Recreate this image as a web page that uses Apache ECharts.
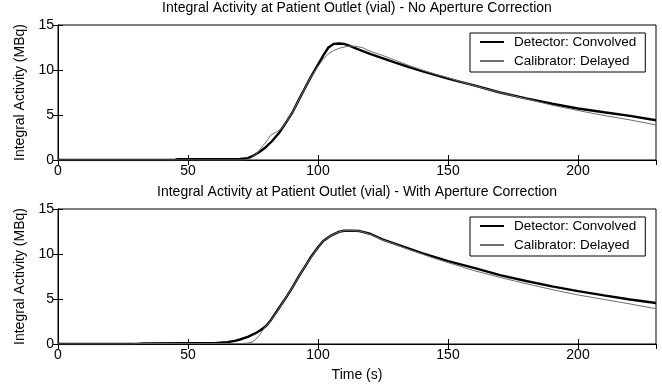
<!DOCTYPE html>
<html>
<head>
<meta charset="utf-8">
<script src="https://cdn.jsdelivr.net/npm/echarts@6/dist/echarts.min.js"></script>
<style>
  html, body { margin: 0; padding: 0; background: #fff; }
  #chart { width: 662px; height: 387px; }
</style>
</head>
<body>
<div id="chart"></div>
<script>
  // top plot: no aperture correction
  var tDetTop = [0, 45, 46, 60, 70, 73, 75, 78, 80, 82, 85, 88, 90, 93, 95, 97, 100, 102, 104, 106, 108, 110, 112, 115, 120, 125, 130, 135, 140, 145, 150, 160, 170, 180, 190, 200, 210, 220, 230];
  var detTop = [0, 0, 0.08, 0.1, 0.12, 0.2, 0.45, 1.0, 1.45, 2.0, 3.0, 4.3, 5.2, 6.9, 8.0, 9.1, 10.6, 11.6, 12.5, 12.9, 12.95, 12.9, 12.7, 12.35, 11.8, 11.3, 10.8, 10.32, 9.87, 9.45, 9.05, 8.3, 7.5, 6.85, 6.25, 5.72, 5.3, 4.9, 4.42];
  var tCalTop = [0, 72, 74, 76, 78, 80, 82, 84, 86, 88, 90, 93, 95, 97, 100, 102, 104, 106, 108, 110, 112, 114, 117, 120, 125, 130, 135, 140, 145, 150, 160, 170, 180, 190, 200, 210, 220, 230];
  var calTop = [0, 0, 0.15, 0.6, 1.3, 2.0, 2.8, 3.1, 3.5, 4.3, 5.2, 6.9, 8.0, 9.1, 10.4, 11.2, 11.8, 12.15, 12.4, 12.55, 12.65, 12.65, 12.5, 12.1, 11.6, 11.05, 10.5, 10.0, 9.55, 9.15, 8.25, 7.5, 6.8, 6.1, 5.5, 4.95, 4.45, 3.9];

  // bottom plot: with aperture correction
  var tDetBot = [0, 30, 33, 50, 60, 65, 68, 70, 73, 76, 78, 80, 82, 85, 88, 90, 93, 95, 97, 100, 102, 105, 108, 110, 113, 116, 120, 125, 130, 135, 140, 145, 150, 160, 170, 180, 190, 200, 210, 220, 230];
  var detBot = [0, 0, 0.07, 0.1, 0.1, 0.2, 0.35, 0.5, 0.8, 1.2, 1.55, 2.0, 2.7, 4.0, 5.3, 6.2, 7.7, 8.6, 9.55, 10.75, 11.45, 12.05, 12.45, 12.58, 12.6, 12.55, 12.25, 11.6, 11.1, 10.6, 10.1, 9.65, 9.2, 8.45, 7.65, 7.0, 6.4, 5.88, 5.4, 4.95, 4.55];
  var tCalBot = [0, 28, 33, 50, 65, 70, 73, 75, 77, 79, 80, 82, 85, 88, 90, 93, 95, 97, 100, 102, 105, 108, 110, 113, 116, 120, 125, 130, 135, 140, 145, 150, 160, 170, 180, 190, 200, 210, 220, 230];
  var calBot = [0, 0, 0.05, 0.05, 0.05, 0.05, 0.1, 0.25, 0.8, 1.6, 2.0, 2.65, 3.95, 5.3, 6.2, 7.7, 8.6, 9.5, 10.75, 11.45, 12.05, 12.45, 12.58, 12.6, 12.55, 12.2, 11.55, 11.05, 10.5, 10.0, 9.5, 9.05, 8.15, 7.4, 6.7, 6.05, 5.45, 4.95, 4.45, 3.92];

  var titles = ['Integral Activity at Patient Outlet (vial) - No Aperture Correction',
                'Integral Activity at Patient Outlet (vial) - With Aperture Correction'];
  var names = ['Detector: Convolved', 'Calibrator: Delayed'];
  var yName = 'Integral Activity (MBq)';
  var xName = 'Time (s)';

  function pairs(t, v) {
    return t.map(function (x, i) { return [x, v[i]]; });
  }

  var font = 'Arial, "Liberation Sans", Helvetica, sans-serif';
  var gridTops = [25, 209];

  var grids = [], xAxes = [], yAxes = [], legends = [], titleList = [];
  gridTops.forEach(function (top, k) {
    grids.push({ left: 58, top: top, width: 598, height: 135, show: true, borderColor: '#000', borderWidth: 1, backgroundColor: '#fff' });
    // bottom x axis
    xAxes.push({
      type: 'value', gridIndex: k, min: 0, max: 230, interval: 50,
      name: k === 1 ? xName : '', nameLocation: 'middle', nameGap: 31,
      nameTextStyle: { color: '#000', fontSize: 14, fontFamily: font, verticalAlign: 'middle' },
      axisLine: { show: true, lineStyle: { color: '#000', width: 1 } },
      axisTick: { show: true, inside: true, length: 5, lineStyle: { color: '#000' } },
      axisLabel: { color: '#000', fontSize: 14, fontFamily: font, margin: 4, showMaxLabel: false },
      splitLine: { show: false }
    });
    // top x axis (ticks only)
    xAxes.push({
      type: 'value', gridIndex: k, position: 'top', min: 0, max: 230, interval: 50,
      axisLine: { show: true, lineStyle: { color: '#000', width: 1 } },
      axisTick: { show: true, inside: true, length: 5, lineStyle: { color: '#000' } },
      axisLabel: { show: false },
      splitLine: { show: false }
    });
    yAxes.push({
      type: 'value', gridIndex: k, min: 0, max: 15, interval: 5,
      name: yName, nameLocation: 'middle', nameGap: 35,
      nameTextStyle: { color: '#000', fontSize: 14, fontFamily: font, verticalAlign: 'middle' },
      axisLine: { show: true, lineStyle: { color: '#000', width: 1 } },
      axisTick: { show: true, inside: true, length: 5, lineStyle: { color: '#000' } },
      axisLabel: { color: '#000', fontSize: 14, fontFamily: font, margin: 4 },
      splitLine: { show: false }
    });
    yAxes.push({
      type: 'value', gridIndex: k, position: 'right', min: 0, max: 15, interval: 5,
      axisLine: { show: true, lineStyle: { color: '#000', width: 1 } },
      axisTick: { show: true, inside: true, length: 5, lineStyle: { color: '#000' } },
      axisLabel: { show: false },
      splitLine: { show: false }
    });
    legends.push({
      data: names, orient: 'vertical', left: 470, top: top + 8,
      itemWidth: 24, itemHeight: 14, itemGap: 5,
      padding: [2, 9, 4, 9],
      borderColor: '#000', borderWidth: 1, backgroundColor: '#fff',
      itemStyle: { opacity: 0 },
      textStyle: { color: '#000', fontSize: 13.5, fontFamily: font, padding: [0, 0, 0, 5] }
    });
    titleList.push({
      text: titles[k], left: 357, top: k === 0 ? 1 : 185, textAlign: 'center', padding: 0,
      textStyle: { color: '#000', fontSize: 14, fontWeight: 'normal', fontFamily: font }
    });
  });

  function line(name, data, xi, yi) {
    var det = name === names[0];
    return {
      name: name, type: 'line', xAxisIndex: xi, yAxisIndex: yi,
      data: data, symbol: 'none', showSymbol: false,
      lineStyle: { color: det ? '#000' : '#6e6e6e', width: det ? 2.4 : 1 },
      itemStyle: { color: det ? '#000' : '#6e6e6e' },
      z: det ? 3 : 4
    };
  }

  var myChart = echarts.init(document.getElementById('chart'));
  var option = {
    animation: false,
    backgroundColor: '#fff',
    title: titleList,
    legend: legends,
    grid: grids,
    xAxis: xAxes,
    yAxis: yAxes,
    series: [
      line(names[0], pairs(tDetTop, detTop), 0, 0),
      line(names[1], pairs(tCalTop, calTop), 0, 0),
      line(names[0], pairs(tDetBot, detBot), 2, 2),
      line(names[1], pairs(tCalBot, calBot), 2, 2)
    ]
  };
  myChart.setOption(option);
</script>
</body>
</html>
